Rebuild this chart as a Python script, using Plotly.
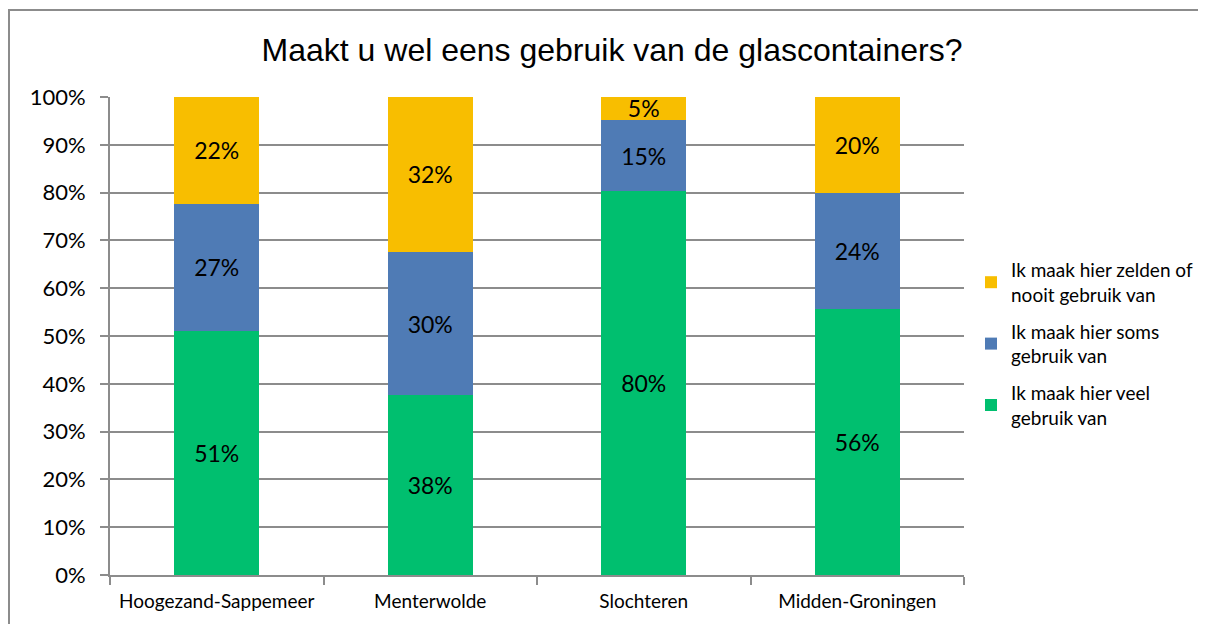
import plotly.graph_objects as go

categories = ["Hoogezand-Sappemeer", "Menterwolde", "Slochteren", "Midden-Groningen"]
veel = [51.1, 37.6, 80.3, 55.6]
soms = [26.6, 30.0, 14.9, 24.3]
zelden = [22.3, 32.4, 4.8, 20.1]
series_names = [
    "Ik maak hier veel<br>gebruik van",
    "Ik maak hier soms<br>gebruik van",
    "Ik maak hier zelden of<br>nooit gebruik van",
]
colors = ["#00BF6F", "#4F7BB5", "#F8BE00"]
y_ticks = [0, 10, 20, 30, 40, 50, 60, 70, 80, 90, 100]
y_labels = [f"{v}%" for v in y_ticks]

W, H = 1190, 616
L, R, T, B = 102, 234, 89, 49
pw, ph = W - L - R, H - T - B

def px_x(p):
    return (p - L) / pw

def px_y(p):
    return (H - B - p) / ph

FONT = "Lato, Open Sans, sans-serif"

fig = go.Figure()
for i, (name, vals, col) in enumerate(zip(series_names, [veel, soms, zelden], colors)):
    fig.add_trace(go.Bar(
        x=categories, y=vals, name=name, marker=dict(color=col, line=dict(width=0)),
        width=0.4, legendgroup=f"g{i}", legendrank=1000 - i,
        text=[f"{round(v):.0f}%" for v in vals],
        textposition="inside", insidetextanchor="middle", textangle=0,
        constraintext="none",
        textfont=dict(family=FONT, size=23, color="black"),
        hoverinfo="skip",
    ))

grid_color = "#8C8C8C"
fig.update_layout(
    barmode="stack",
    width=W, height=H,
    margin=dict(l=L, r=R, t=T, b=B, autoexpand=False),
    paper_bgcolor="white", plot_bgcolor="white",
    title=dict(text="Maakt u wel eens gebruik van de glascontainers?",
               x=604 / W, xanchor="center", y=1 - 42 / H, yanchor="middle",
               font=dict(family="Liberation Sans, Arial, sans-serif", size=32, color="black")),
    xaxis=dict(
        showline=True, linecolor=grid_color, linewidth=2,
        ticks="outside", tickson="boundaries", ticklen=8, tickcolor=grid_color, tickwidth=2,
        tickfont=dict(family=FONT, size=19, color="black"),
        ticklabelstandoff=8,
        showgrid=False,
    ),
    yaxis=dict(
        range=[0, 100], tickvals=y_ticks, ticktext=y_labels,
        showline=True, linecolor=grid_color, linewidth=2,
        ticks="outside", ticklen=8, tickcolor=grid_color, tickwidth=2,
        ticklabelstandoff=10,
        showgrid=True, gridcolor=grid_color, gridwidth=2,
        tickfont=dict(family=FONT, size=22, color="black"),
        zeroline=False,
    ),
    legend=dict(
        x=px_x(963), y=px_y(336), xanchor="left", yanchor="middle",
        traceorder="grouped",
        font=dict(family=FONT, size=19, color="black"),
        itemwidth=30, tracegroupgap=9,
    ),
    shapes=[
        dict(type="line", xref="paper", yref="paper",
             x0=px_x(0), x1=px_x(W + 10), y0=px_y(2), y1=px_y(2),
             line=dict(color="#8C8C8C", width=2)),
        dict(type="line", xref="paper", yref="paper",
             x0=px_x(1), x1=px_x(1), y0=px_y(2), y1=px_y(H + 10),
             line=dict(color="#8C8C8C", width=2)),
    ],
)

fig.write_html("out.html")
